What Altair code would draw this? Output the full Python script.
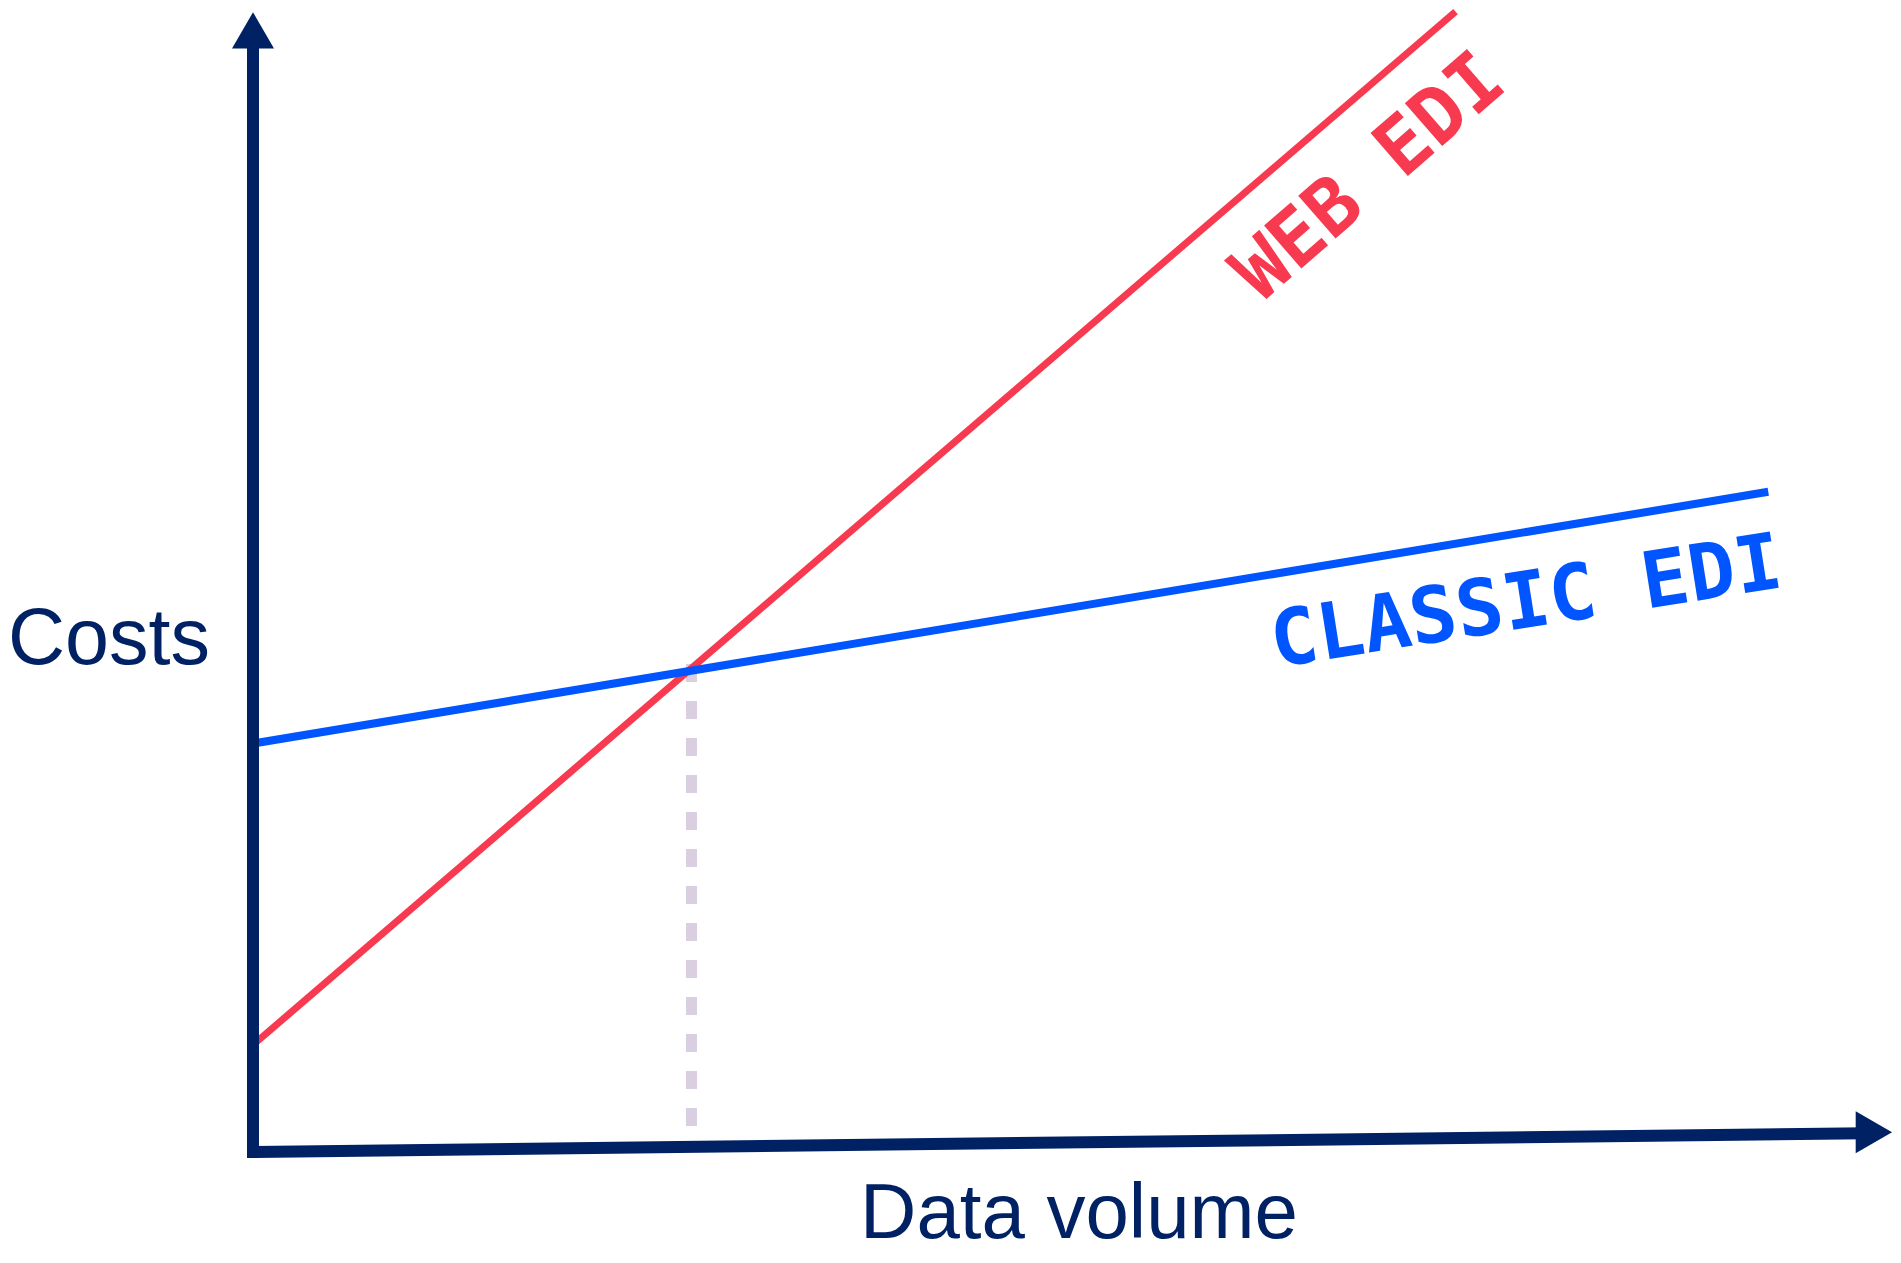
import altair as alt
import pandas as pd

# ---------------- data ----------------
x_axis_label = "Data volume"
y_axis_label = "Costs"
series_names = ["WEB EDI", "CLASSIC EDI"]

web_x = [0.0, 74.6]
web_y = [9.7, 103.3]
classic_x = [0.0, 94.0]
classic_y = [37.0, 59.8]
breakeven_x = [27.2, 27.2]
breakeven_y = [44.2, 0.0]
xaxis_x = [0.0, 100.0]
xaxis_y = [0.0, 1.7]
yaxis_x = [0.0, 0.0]
yaxis_y = [0.0, 100.0]

# ---------------- layout ----------------
W, H = 1885, 1247
PX0, PX100 = 245, 1857      # chart px of x=0 and x=100
PY0, PY100 = 1144, 40       # chart px of y=0 and y=100
sx = (PX100 - PX0) / 100.0
sy = (PY0 - PY100) / 100.0
x_dom = [-PX0 / sx, (W - PX0) / sx]
y_dom = [(PY0 - H) / sy, PY0 / sy]

NAVY = "#002163"
RED = "#f83a50"
BLUE = "#0055ff"
LILAC = "#dacfe0"

xs = alt.Scale(domain=x_dom, nice=False, zero=False)
ys = alt.Scale(domain=y_dom, nice=False, zero=False)


def X(f="x"):
    return alt.X(f"{f}:Q", scale=xs, axis=None)


def Y(f="y"):
    return alt.Y(f"{f}:Q", scale=ys, axis=None)


def line_df(xv, yv):
    return pd.DataFrame({"x": xv, "y": yv, "o": list(range(len(xv)))})


dashed = alt.Chart(line_df(breakeven_x, breakeven_y)).mark_line(
    color=LILAC, strokeWidth=11, strokeDash=[18, 19], strokeCap="butt"
).encode(x=X(), y=Y(), order="o:O")

web = alt.Chart(line_df(web_x, web_y)).mark_line(
    color=RED, strokeWidth=7, strokeCap="butt"
).encode(x=X(), y=Y(), order="o:O")

classic = alt.Chart(line_df(classic_x, classic_y)).mark_line(
    color=BLUE, strokeWidth=8, strokeCap="butt"
).encode(x=X(), y=Y(), order="o:O")

yaxis_line = alt.Chart(line_df(yaxis_x, yaxis_y)).mark_line(
    color=NAVY, strokeWidth=12, strokeCap="square"
).encode(x=X(), y=Y(), order="o:O")

xaxis_line = alt.Chart(line_df(xaxis_x, xaxis_y)).mark_line(
    color=NAVY, strokeWidth=12, strokeCap="butt"
).encode(x=X(), y=Y(), order="o:O")

y_arrow = alt.Chart(pd.DataFrame({"x": [0.0], "y": [101.6]})).mark_point(
    shape="triangle-up", size=1764, filled=True, color=NAVY, opacity=1, strokeWidth=0
).encode(x=X(), y=Y())

x_arrow = alt.Chart(pd.DataFrame({"x": [100.55], "y": [1.8]})).mark_point(
    shape="triangle-right", size=1764, filled=True, color=NAVY, opacity=1, strokeWidth=0
).encode(x=X(), y=Y())

costs_lbl = alt.Chart(pd.DataFrame({"x": [x_dom[0]], "y": [44.2], "t": [y_axis_label]})).mark_text(
    font="Liberation Sans", fontSize=79, color=NAVY, align="left", baseline="alphabetic"
).encode(x=X(), y=Y(), text="t:N")

volume_lbl = alt.Chart(pd.DataFrame({"x": [51.24], "y": [-7.75], "t": [x_axis_label]})).mark_text(
    font="Liberation Sans", fontSize=78, color=NAVY, align="center", baseline="alphabetic"
).encode(x=X(), y=Y(), text="t:N")

web_lbl = alt.Chart(pd.DataFrame({"x": [69.3], "y": [88.2], "t": [series_names[0]]})).mark_text(
    font="DejaVu Sans Mono", fontWeight="bold", fontSize=78, color=RED,
    align="center", baseline="middle", angle=319
).encode(x=X(), y=Y(), text="t:N")

classic_lbl = alt.Chart(pd.DataFrame({"x": [79.0], "y": [49.6], "t": [series_names[1]]})).mark_text(
    font="DejaVu Sans Mono", fontWeight="bold", fontSize=78, color=BLUE,
    align="center", baseline="middle", angle=351
).encode(x=X(), y=Y(), text="t:N")

chart = alt.layer(
    dashed, web, classic, yaxis_line, xaxis_line, y_arrow, x_arrow,
    costs_lbl, volume_lbl, web_lbl, classic_lbl
).properties(
    width=W, height=H, padding=0, autosize=alt.AutoSizeParams(type="none"),
    background="white"
).configure_view(stroke=None)

chart.save("out.html", embed_options={"renderer": "svg", "actions": False})
